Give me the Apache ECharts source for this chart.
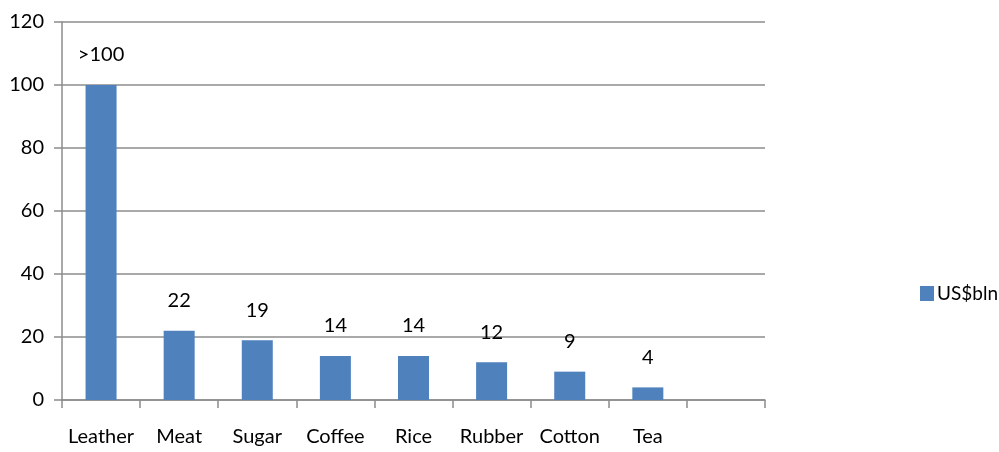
<!DOCTYPE html>
<html>
<head>
<meta charset="utf-8">
<script src="https://cdn.jsdelivr.net/npm/echarts@6/dist/echarts.min.js"></script>
<style>
  html, body { margin: 0; padding: 0; background: #fff; }
  #chart { width: 999px; height: 452px; }
</style>
</head>
<body>
<div id="chart"></div>
<script>
// categories incl. the empty last slot
const categories = ['Leather', 'Meat', 'Sugar', 'Coffee', 'Rice', 'Rubber', 'Cotton', 'Tea', '']
const values = [100, 22, 19, 14, 14, 12, 9, 4, null]
const labels = ['>100', '22', '19', '14', '14', '12', '9', '4', '']
const yTicks = [0, 20, 40, 60, 80, 100, 120]

const font = 'Lato, sans-serif'
const chart = echarts.init(document.getElementById('chart'))
chart.setOption({
    animation: false,
    legend: {
        data: ['US$bln'],
        orient: 'vertical',
        left: 915,
        top: 279,
        itemWidth: 14,
        itemHeight: 15,
        itemGap: 4,
        icon: 'rect',
        textStyle: { fontFamily: font, fontSize: 19, color: '#000', padding: [0, 0, 0, -2] }
    },
    grid: {
        left: 62,
        right: 234,
        top: 22,
        bottom: 52,
        containLabel: false
    },
    xAxis: {
        type: 'category',
        data: categories,
        axisLine: { lineStyle: { color: '#8c8c8c', width: 1.5 } },
        axisTick: { show: true, length: 8, lineStyle: { color: '#8c8c8c', width: 1.5 } },
        axisLabel: { fontFamily: font, fontSize: 20, color: '#000', margin: 27, interval: 0 }
    },
    yAxis: {
        type: 'value',
        min: 0,
        max: yTicks[yTicks.length - 1],
        interval: 20,
        axisLine: { show: true, lineStyle: { color: '#8c8c8c', width: 1.5 } },
        axisTick: { show: true, length: 8, lineStyle: { color: '#8c8c8c', width: 1.5 } },
        axisLabel: { fontFamily: font, fontSize: 20, color: '#000', margin: 18 },
        splitLine: { lineStyle: { color: '#8c8c8c', width: 1.5 } }
    },
    series: [
        {
            name: 'US$bln',
            type: 'bar',
            barWidth: 31,
            data: values,
            itemStyle: { color: '#4f81bd' },
            label: {
                show: true,
                position: 'top',
                distance: 20,
                fontFamily: font,
                fontSize: 20,
                color: '#000',
                formatter: (p) => labels[p.dataIndex]
            }
        }
    ]
})
</script>
</body>
</html>
